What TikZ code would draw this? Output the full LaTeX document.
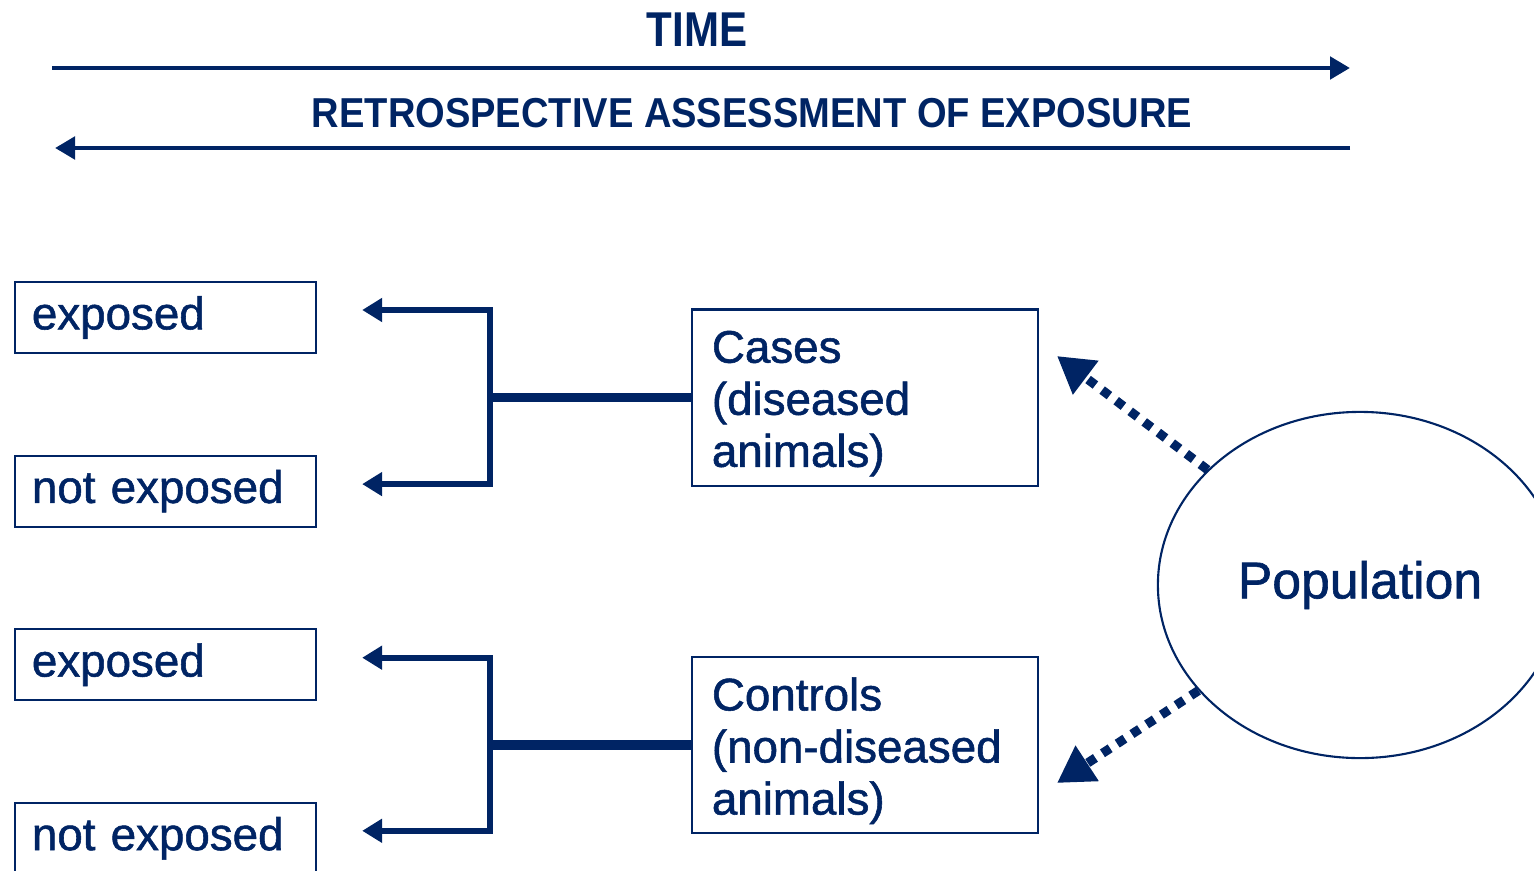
\documentclass[tikz,border=0pt]{standalone}
\usepackage{fontspec}
\usepackage{graphicx}
\setmainfont{Liberation Sans}
\newfontfamily\diagfont{Liberation Sans}[FakeBold=1.2]
\usetikzlibrary{arrows.meta,shapes.geometric}
\definecolor{navy}{RGB}{0,36,100}

\begin{document}
\begin{tikzpicture}[x=0.01cm, y=-0.01cm, node distance=1.735cm,
        box/.style={rectangle, draw=navy, line width=0.6pt, text=navy, align=left, inner xsep=0.17cm, text width=2.67cm, minimum height=0.71cm, font=\diagfont\fontsize{13pt}{14.8pt}\selectfont},
        group/.style={box, inner xsep=0.2cm, inner ysep=0.05cm, text width=3.06cm, minimum height=1.76cm, execute at begin node={\rule{0pt}{0.44cm}}},
        arrow/.style={-{Triangle[length=0.2cm, width=0.23cm]}, navy, line width=1.7pt, shorten >=0.45cm},
        stem/.style={navy, line width=2.8pt},
        timeline/.style={-{Triangle[length=0.2cm, width=0.22cm]}, navy, line width=1.4pt},
        dotarrow/.style={-{Triangle[length=0.36cm, width=0.4cm]}, navy, line width=2.6pt, dash pattern=on 2.6pt off 2.4pt}]

        \useasboundingbox (0,0) rectangle (1534,870);

        \node[text=navy, font=\fontsize{13.9pt}{16pt}\selectfont\bfseries] (time) at (697,30) {\scalebox{0.86}[1]{TIME}};
        \node[text=navy, font=\fontsize{11.9pt}{14pt}\selectfont\bfseries] (retro) at (752,113) {\scalebox{0.91}[1]{RETROSPECTIVE ASSESSMENT OF EXPOSURE}};
        \coordinate (tl) at (52,68);
        \coordinate (tr) at (1350,68);
        \coordinate (bl) at (55,148);
        \coordinate (br) at (1350,148);
        \draw[timeline] (tl) -- (tr);
        \draw[timeline] (br) -- (bl);

        \node[box] (exp1) at (165.5,317.5) {exposed};
        \node[box, below of=exp1] (nexp1) {not exposed};
        \node[box, below of=nexp1] (exp2) {exposed};
        \node[box, below of=exp2] (nexp2) {not exposed};

        \node[group] (cases) at (865,397.5) {Cases\\(diseased\\animals)};
        \node[group, below of=cases, node distance=3.475cm] (controls) {Controls\\(non-diseased\\animals)};

        \node[ellipse, draw=navy, line width=0.6pt, minimum width=4.04cm, minimum height=3.46cm, inner sep=0pt, text=navy, font=\diagfont\fontsize{14.7pt}{17pt}\selectfont] (pop) at (1360,585) {Population};

        \coordinate (j1) at ([xshift=-2.01cm]cases.west);
        \coordinate (j2) at ([xshift=-2.01cm]controls.west);
        \draw[stem] (cases.west) -- (j1);
        \draw[arrow] (j1) |- ([yshift=0.075cm]exp1.east);
        \draw[arrow] (j1) |- ([yshift=0.07cm]nexp1.east);
        \draw[stem] (controls.west) -- (j2);
        \draw[arrow] (j2) |- ([yshift=0.07cm]exp2.east);
        \draw[arrow] (j2) |- ([yshift=0.075cm]nexp2.east);

        \coordinate (casetip) at (1057,356);
        \coordinate (controltip) at (1057,783);
        \draw[dotarrow] (pop) -- (casetip);
        \draw[dotarrow] (pop) -- (controltip);
    \end{tikzpicture}
\end{document}
